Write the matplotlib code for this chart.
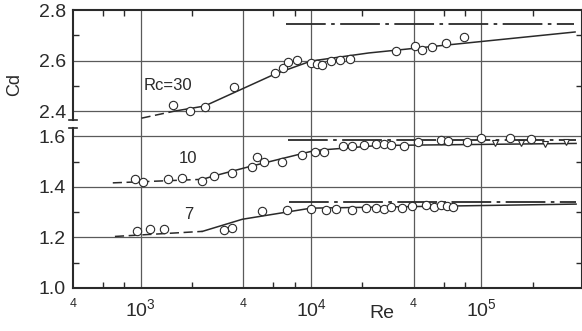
import matplotlib.pyplot as plt
import numpy as np

plt.rcParams['font.family'] = ['Liberation Sans', 'DejaVu Sans']
plt.rcParams['mathtext.fontset'] = 'custom'
plt.rcParams['mathtext.rm'] = 'Liberation Sans'
plt.rcParams['mathtext.it'] = 'Liberation Sans:italic'

# upper band (Rc=30) is drawn shifted down by this much (broken axis)
OFFSET = 0.7

# Rc = 30
re30 = [1540, 1940, 2370, 3550, 6160, 6860, 7330, 8270, 10000, 10800, 11600,
        13100, 14800, 16900, 31400, 40600, 44600, 51000, 61600, 79600]
cd30 = [2.424, 2.40, 2.416, 2.495, 2.55, 2.57, 2.594, 2.602, 2.59, 2.586, 2.582,
        2.598, 2.602, 2.606, 2.638, 2.657, 2.642, 2.653, 2.669, 2.693]
fit30_dash_re = [1010, 1580]
fit30_dash_cd = [2.372, 2.40]
fit30_re = [1580, 2370, 6150, 10000, 21800, 355000]
fit30_cd = [2.40, 2.42, 2.547, 2.598, 2.63, 2.713]
asym30_re = [7150, 350000]
asym30_cd = [2.745, 2.745]

# Rc = 10
re10 = [922, 1028, 1440, 1740, 2275, 2710, 3450, 4520, 4830, 5300, 6760, 8850,
        10500, 11900, 15400, 17400, 20400, 24000, 26700, 29400, 35000, 42300,
        58300, 64100, 82800, 100000, 148000, 196000]
cd10 = [1.432, 1.42, 1.432, 1.436, 1.424, 1.444, 1.456, 1.48, 1.52, 1.50, 1.50, 1.528,
        1.54, 1.54, 1.56, 1.56, 1.564, 1.568, 1.568, 1.564, 1.56, 1.576,
        1.584, 1.58, 1.576, 1.592, 1.592, 1.588]
re10_tri = [121000, 171000, 237000, 314000]
cd10_tri = [1.572, 1.572, 1.568, 1.576]
fit10_dash_re = [685, 2300]
fit10_dash_cd = [1.416, 1.43]
fit10_re = [2300, 2710, 4330, 10500, 25000, 360000]
fit10_cd = [1.43, 1.444, 1.48, 1.544, 1.564, 1.572]
asym10_re = [7300, 360000]
asym10_cd = [1.584, 1.584]

# Rc = 7
re7 = [948, 1130, 1365, 3100, 3450, 5160, 7240, 10000, 12200, 14000, 17400, 21000,
       24000, 26700, 29400, 34000, 39000, 47000, 53000, 58000, 63000, 68000]
cd7 = [1.224, 1.232, 1.232, 1.228, 1.236, 1.304, 1.308, 1.312, 1.308, 1.312, 1.308, 1.316,
       1.316, 1.312, 1.32, 1.316, 1.324, 1.328, 1.32, 1.328, 1.324, 1.32]
fit7_dash_re = [705, 2300]
fit7_dash_cd = [1.204, 1.224]
fit7_re = [2300, 3950, 10000, 360000]
fit7_cd = [1.224, 1.272, 1.316, 1.332]
asym7_re = [7400, 360000]
asym7_cd = [1.34, 1.34]

ytick_vals = [1.0, 1.2, 1.4, 1.6, 2.4, 2.6, 2.8]
xtick_vals = [400, 1e3, 4e3, 1e4, 4e4, 1e5]
xtick_text = ['4', '$10^3$', '4', '$10^4$', '4', '$10^5$']


def shown(v):
    # map real Cd to plotted position across the break
    v = np.asarray(v, dtype=float)
    return np.where(v > 2.0, v - OFFSET, v)


fig = plt.figure(figsize=(5.82, 3.31), dpi=100)
ax = fig.add_axes([73 / 582, 43 / 331, 509 / 582, 278 / 331])

ink = '#2a2a2a'
line_kw = dict(color=ink, lw=1.1)
dash_kw = dict(color=ink, lw=1.1, dashes=(6, 3))
asym_kw = dict(color=ink, lw=1.3, dashes=(22, 3, 2, 3))
mk = dict(ls='none', marker='o', ms=6, mfc='white', mec=ink, mew=0.8, zorder=4)

# grid
for gy in [1.2, 1.4, 1.6, 2.4, 2.6]:
    ax.axhline(shown(gy), color='#5a5a5a', lw=0.9, zorder=1)
for gx in [1e3, 4e3, 1e4, 4e4, 1e5]:
    ax.axvline(gx, color='#5a5a5a', lw=0.9, zorder=1)

# Rc=30
ax.plot(fit30_dash_re, shown(fit30_dash_cd), **dash_kw)
ax.plot(fit30_re, shown(fit30_cd), **line_kw)
ax.plot(asym30_re, shown(asym30_cd), **asym_kw)
ax.plot(re30, shown(cd30), **mk)

# Rc=10
ax.plot(fit10_dash_re, fit10_dash_cd, **dash_kw)
ax.plot(fit10_re, fit10_cd, **line_kw)
ax.plot(asym10_re, asym10_cd, **asym_kw)
ax.plot(re10, cd10, **mk)
ax.plot(re10_tri, cd10_tri, ls='none', marker='v', ms=4.5, mfc='white', mec=ink,
        mew=0.8, zorder=4)

# Rc=7
ax.plot(fit7_dash_re, fit7_dash_cd, **dash_kw)
ax.plot(fit7_re, fit7_cd, **line_kw)
ax.plot(asym7_re, asym7_cd, **asym_kw)
ax.plot(re7, cd7, **mk)

ax.set_xscale('log')
ax.set_xlim(400, 3.9e5)
ax.set_ylim(1.0, 2.8 - OFFSET)

ax.set_yticks(shown(ytick_vals))
ax.set_yticklabels(['%.1f' % v for v in ytick_vals], fontsize=14, color=ink)
ax.set_yticks(shown([1.1, 1.3, 1.5, 2.5, 2.7]), minor=True)
ax.set_xticks(xtick_vals)
ax.set_xticklabels(xtick_text)
ax.set_xticks([600, 800, 2e3, 6e3, 8e3, 2e4, 6e4, 8e4, 2e5], minor=True)
ax.xaxis.set_minor_formatter(plt.NullFormatter())
for lbl in ax.get_xticklabels():
    if lbl.get_text() == '4':
        lbl.set_fontsize(9)
    else:
        lbl.set_fontsize(14)
    lbl.set_color(ink)
ax.tick_params(which='both', direction='in', top=True, right=True, width=1.0,
               color=ink)
ax.tick_params(which='major', length=0)
ax.tick_params(which='minor', length=4)
ax.tick_params(axis='x', pad=7)
ax.tick_params(axis='y', pad=5)

for s in ax.spines.values():
    s.set_linewidth(1.5)
    s.set_color(ink)

# broken left axis
ax.spines['left'].set_visible(False)
tr = ax.get_yaxis_transform()
ax.plot([0, 0], [1.0, 1.632], transform=tr, color=ink, lw=1.5, clip_on=False, zorder=5)
ax.plot([0, 0], [1.664, 2.1], transform=tr, color=ink, lw=1.5, clip_on=False, zorder=5)
for yb in [1.632, 1.664]:
    ax.plot([-0.008, 0.008], [yb, yb], transform=tr, color=ink, lw=1.2,
            clip_on=False, zorder=5)

ax.text(1440, shown(2.5), 'Rc=30', fontsize=12, color=ink, ha='center', va='center')
ax.text(1885, 1.512, '10', fontsize=12, color=ink, ha='center', va='center')
ax.text(1910, 1.29, '7', fontsize=12, color=ink, ha='center', va='center')

fig.text(382 / 582, 1 - 314 / 331, 'Re', fontsize=14, color=ink, ha='center', va='center')
fig.text(15 / 582, 1 - 85 / 331, 'Cd', fontsize=13, color=ink, ha='center', va='center',
         rotation=90)

fig.savefig('out.png', dpi=100)
